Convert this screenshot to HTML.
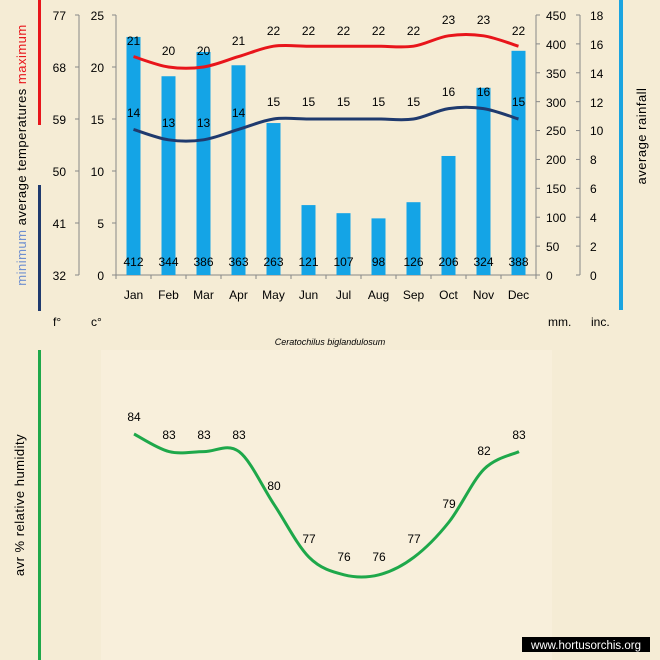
<!DOCTYPE html>
<html><head><meta charset="utf-8"><style>
html,body{margin:0;padding:0;background:#f5ecd5;}
svg{display:block;font-family:"Liberation Sans",sans-serif;}
</style></head><body>
<svg id="s" width="660" height="660" viewBox="0 0 660 660" xmlns="http://www.w3.org/2000/svg">
<rect width="660" height="660" fill="#f5ecd5"/>
<rect x="101" y="350" width="451" height="310" fill="#f8efdb"/>
<!-- side bars -->
<rect x="38" y="0" width="3" height="125" fill="#e8151b"/>
<rect x="38" y="185" width="3" height="126" fill="#1f3a6e"/>
<rect x="619" y="0" width="4" height="310" fill="#1aa4e0"/>
<rect x="38" y="350" width="3" height="310" fill="#1ea84a"/>
<text transform="translate(26,155) rotate(-90)" text-anchor="middle" font-size="13" fill="#000" letter-spacing="0.5"><tspan fill="#6f8fd0">minimum</tspan>  average  temperatures  <tspan fill="#e8151b">maximum</tspan></text>
<text transform="translate(646,136) rotate(-90)" text-anchor="middle" font-size="13" fill="#000" letter-spacing="0.5">average rainfall</text>
<text transform="translate(24,505) rotate(-90)" text-anchor="middle" font-size="13" fill="#000" letter-spacing="0.5">avr  %  relative humidity</text>
<!-- axes -->
<g stroke="#888" stroke-width="1" fill="none">
<line x1="79" y1="15" x2="79" y2="275"/>
<line x1="116" y1="15" x2="116" y2="275"/>
<line x1="116" y1="275" x2="536" y2="275"/>
<line x1="536" y1="15" x2="536" y2="275"/>
<line x1="580" y1="15" x2="580" y2="275"/>
</g>
<g id="ticks" stroke="#888" stroke-width="1"></g>
<g font-size="12" fill="#000" text-anchor="end">
<text x="66" y="20">77</text><text x="66" y="72">68</text><text x="66" y="124">59</text><text x="66" y="176">50</text><text x="66" y="228">41</text><text x="66" y="280">32</text>
<text x="104" y="20">25</text><text x="104" y="72">20</text><text x="104" y="124">15</text><text x="104" y="176">10</text><text x="104" y="228">5</text><text x="104" y="280">0</text>
</g>
<g font-size="12" fill="#000" text-anchor="start">
<text x="546" y="20">450</text><text x="546" y="49">400</text><text x="546" y="78">350</text><text x="546" y="107">300</text><text x="546" y="135">250</text><text x="546" y="164">200</text><text x="546" y="193">150</text><text x="546" y="222">100</text><text x="546" y="251">50</text><text x="546" y="280">0</text>
<text x="590" y="20">18</text><text x="590" y="49">16</text><text x="590" y="78">14</text><text x="590" y="107">12</text><text x="590" y="135">10</text><text x="590" y="164">8</text><text x="590" y="193">6</text><text x="590" y="222">4</text><text x="590" y="251">2</text><text x="590" y="280">0</text>
</g>
<g font-size="12" fill="#000">
<text x="53" y="326">f°</text><text x="91" y="326">c°</text>
<text x="548" y="326">mm.</text><text x="591" y="326">inc.</text>
</g>
<g id="bars" fill="#14a4e6"></g>
<g font-size="12" fill="#000" text-anchor="middle">
<text x="133.5" y="299">Jan</text><text x="168.5" y="299">Feb</text><text x="203.5" y="299">Mar</text><text x="238.5" y="299">Apr</text><text x="273.5" y="299">May</text><text x="308.5" y="299">Jun</text><text x="343.5" y="299">Jul</text><text x="378.5" y="299">Aug</text><text x="413.5" y="299">Sep</text><text x="448.5" y="299">Oct</text><text x="483.5" y="299">Nov</text><text x="518.5" y="299">Dec</text>
</g>
<path id="pmax" fill="none" stroke="#e8151b" stroke-width="3"/>
<path id="pmin" fill="none" stroke="#1f3a6e" stroke-width="3"/>
<path id="phum" fill="none" stroke="#1ea84a" stroke-width="3"/>
<g font-size="12" fill="#000" text-anchor="middle">
<text x="133.5" y="45">21</text><text x="168.5" y="55">20</text><text x="203.5" y="55">20</text><text x="238.5" y="45">21</text><text x="273.5" y="35">22</text><text x="308.5" y="35">22</text><text x="343.5" y="35">22</text><text x="378.5" y="35">22</text><text x="413.5" y="35">22</text><text x="448.5" y="24">23</text><text x="483.5" y="24">23</text><text x="518.5" y="35">22</text>
<text x="133.5" y="117">14</text><text x="168.5" y="127">13</text><text x="203.5" y="127">13</text><text x="238.5" y="117">14</text><text x="273.5" y="106">15</text><text x="308.5" y="106">15</text><text x="343.5" y="106">15</text><text x="378.5" y="106">15</text><text x="413.5" y="106">15</text><text x="448.5" y="96">16</text><text x="483.5" y="96">16</text><text x="518.5" y="106">15</text>
<text x="133.5" y="266">412</text><text x="168.5" y="266">344</text><text x="203.5" y="266">386</text><text x="238.5" y="266">363</text><text x="273.5" y="266">263</text><text x="308.5" y="266">121</text><text x="343.5" y="266">107</text><text x="378.5" y="266">98</text><text x="413.5" y="266">126</text><text x="448.5" y="266">206</text><text x="483.5" y="266">324</text><text x="518.5" y="266">388</text>
<text x="134" y="421">84</text><text x="169" y="439">83</text><text x="204" y="439">83</text><text x="239" y="439">83</text><text x="274" y="490">80</text><text x="309" y="543">77</text><text x="344" y="561">76</text><text x="379" y="561">76</text><text x="414" y="543">77</text><text x="449" y="508">79</text><text x="484" y="455">82</text><text x="519" y="439">83</text>
</g>
<text x="330" y="345" text-anchor="middle" font-size="9" font-style="italic" fill="#000">Ceratochilus biglandulosum</text>
<rect x="522" y="637" width="128" height="15" fill="#000"/>
<text x="586" y="649" text-anchor="middle" font-size="11.5" fill="#fff">www.hortusorchis.org</text>
</svg>
<script>
var NS="http://www.w3.org/2000/svg";
function xs(i){return 133.5+35*i;}
var rain=[412,344,386,363,263,121,107,98,126,206,324,388];
var bars=document.getElementById('bars');
rain.forEach(function(r,i){var h=r*260/450;var e=document.createElementNS(NS,'rect');e.setAttribute('x',xs(i)-7);e.setAttribute('y',275-h);e.setAttribute('width',14);e.setAttribute('height',h);bars.appendChild(e);});
var t=document.getElementById('ticks');
function ln(x1,y1,x2,y2){var e=document.createElementNS(NS,'line');e.setAttribute('x1',x1);e.setAttribute('y1',y1);e.setAttribute('x2',x2);e.setAttribute('y2',y2);t.appendChild(e);}
for(var k=0;k<=5;k++){var y=15+52*k;ln(75,y,79,y);ln(112,y,116,y);}
for(var k=0;k<=9;k++){var y=15+260/9*k;ln(536,y,540,y);ln(576,y,580,y);}
for(var k=0;k<=12;k++){var x=116+35*k;ln(x,275,x,279);}
function smooth(p){var d="M"+p[0][0]+","+p[0][1];for(var i=0;i<p.length-1;i++){var p0=p[i-1]||p[i],p1=p[i],p2=p[i+1],p3=p[i+2]||p2;var c1=[p1[0]+(p2[0]-p0[0])/6,p1[1]+(p2[1]-p0[1])/6],c2=[p2[0]-(p3[0]-p1[0])/6,p2[1]-(p3[1]-p1[1])/6];d+="C"+c1+" "+c2+" "+p2;}return d;}
function pts(v,f,x0){return v.map(function(a,i){return [x0+35*i,f(a)];});}
var tf=function(a){return 275-10.4*a;};
document.getElementById('pmax').setAttribute('d',smooth(pts([21,20,20,21,22,22,22,22,22,23,23,22],tf,133.5)));
document.getElementById('pmin').setAttribute('d',smooth(pts([14,13,13,14,15,15,15,15,15,16,16,15],tf,133.5)));
document.getElementById('phum').setAttribute('d',smooth(pts([84,83,83,83,80,77,76,76,77,79,82,83],function(a){return 434+(84-a)*17.6;},134)));
</script>
</body></html>
